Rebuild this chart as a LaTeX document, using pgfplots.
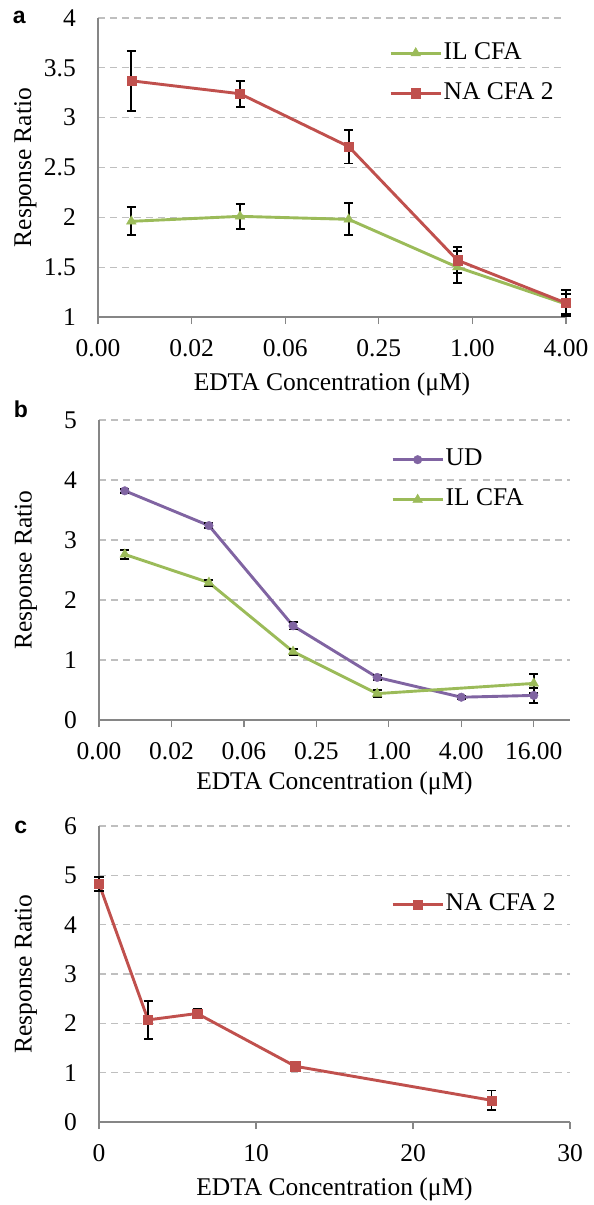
\documentclass[border=0pt]{standalone}
\usepackage{fontspec}
\setmainfont{Liberation Serif}
\newfontfamily\letterfont{Liberation Sans}
\usepackage{pgfplots}
\pgfplotsset{compat=1.18}
\definecolor{cred}{HTML}{C0504D}
\definecolor{cgreen}{HTML}{9BBB59}
\definecolor{cpurple}{HTML}{8064A2}
\definecolor{cgrid}{HTML}{BFBFBF}
\definecolor{caxis}{HTML}{868686}
\newcommand{\bigfont}{\fontsize{25.5bp}{30bp}\selectfont}
\tikzset{letter/.style={font=\letterfont\bfseries\fontsize{23bp}{27bp}\selectfont, anchor=base}}
\pgfplotsset{
  myaxis/.style={
    scale only axis,
    axis lines=left,
    axis line style={-, draw=caxis, line width=1.3bp},
    clip=false,
    ymajorgrids,
    major grid style={draw=cgrid, line width=1.3bp, dash pattern=on 7bp off 5bp},
    tick align=outside,
    major tick length=7bp,
    xtick style={draw=caxis, line width=1.3bp},
    ytick style={draw=none},
    /pgf/number format/assume math mode=true,
    tick label style={font=\bigfont},
    label style={font=\bigfont},
    xticklabel style={anchor=base, yshift=-32.5bp},
    yticklabel style={anchor=east, inner sep=0pt, xshift=-15bp},
    ylabel={Response Ratio},
    xlabel={EDTA Concentration (μM)},
    ylabel style={at={(axis description cs:-0.155,0.5)}, anchor=center},
    xlabel style={at={(axis description cs:0.5,0)}, anchor=base, yshift=-73.5bp},
    legend style={draw=none, fill=none, anchor=north west, font=\bigfont, inner sep=0pt,
      row sep=15bp, nodes={inner sep=1.5bp, text height=17bp, text depth=5bp},
      /tikz/every even column/.append style={column sep=0bp}},
    legend cell align=left,
    legend image code/.code={\draw[mark repeat=2,mark phase=2,##1] plot coordinates {(0bp,0bp) (25bp,0bp) (50bp,0bp)};},
  },
  eb/.style={error bars/.cd, y dir=both, y explicit,
    error bar style={black, line width=1.8bp, solid},
    error mark options={black, line width=1.8bp, mark size=4.5bp, rotate=90}},
  redser/.style={draw=cred, line width=2.9bp, mark=square*, mark size=4.6bp, mark options={solid, fill=cred, draw=cred, line width=0.4bp}},
  greenser/.style={draw=cgreen, line width=2.9bp, mark=triangle*, mark size=5.6bp, mark options={solid, fill=cgreen, draw=cgreen, line width=0.4bp}},
  purpser/.style={draw=cpurple, line width=2.9bp, mark=*, mark size=4.3bp, mark options={solid, fill=cpurple, draw=cpurple, line width=0.4bp}},
}
\begin{document}
\begin{tikzpicture}
\path[use as bounding box] (0,0) rectangle (594bp,-1205bp);
% ---------------- panel a
\begin{axis}[myaxis, at={(98bp,-317bp)}, anchor=south west, width=468bp, height=299bp,
  xmode=log, log basis x=4, xmin=0.00390625, xmax=4,
  xtick={0.00390625,0.015625,0.0625,0.25,1,4},
  xticklabels={0.00,0.02,0.06,0.25,1.00,4.00},
  ymin=1, ymax=4, ytick={1,1.5,2,2.5,3,3.5,4},
  yticklabels={1,{1.5\hspace{9bp}},2,{2.5\hspace{9bp}},3,{3.5\hspace{9bp}},4},
  legend style={at={(axis description cs:0.622,0.925)}}]
\addplot[greenser, eb] table[x=x, y=y, y error=e] {
x y e
0.0064 1.96 0.14
0.032 2.01 0.125
0.16 1.98 0.16
0.8 1.50 0.16
4 1.13 0.10
};
\addlegendentry{IL CFA}
\addplot[redser, eb] table[x=x, y=y, y error=e] {
x y e
0.0064 3.37 0.30
0.032 3.24 0.13
0.16 2.71 0.17
0.8 1.57 0.13
4 1.14 0.13
};
\addlegendentry{NA CFA 2}
\node[letter] at (axis description cs:-0.168,0.983) {a};
\end{axis}
% ---------------- panel b
\begin{axis}[myaxis, at={(99bp,-720bp)}, anchor=south west, width=471bp, height=300bp,
  xmode=log, log basis x=4, xmin=0.00390625, xmax=32,
  xtick={0.00390625,0.015625,0.0625,0.25,1,4,16},
  xticklabels={0.00,0.02,0.06,0.25,1.00,4.00,16.00},
  ymin=0, ymax=5, ytick={0,1,2,3,4,5},
  xlabel style={yshift=4bp},
  legend style={at={(axis description cs:0.620,0.91)}}]
\addplot[purpser, eb] table[x=x, y=y, y error=e] {
x y e
0.0064 3.82 0.03
0.032 3.24 0.04
0.16 1.57 0.06
0.8 0.71 0.04
4 0.38 0.03
16 0.41 0.12
};
\addlegendentry{UD}
\addplot[greenser, eb] table[x=x, y=y, y error=e] {
x y e
0.0064 2.76 0.08
0.032 2.29 0.05
0.16 1.14 0.05
0.8 0.44 0.06
16 0.61 0.16
};
\addlegendentry{IL CFA}
\node[letter] at (axis description cs:-0.166,1.007) {b};
\end{axis}
% ---------------- panel c
\begin{axis}[myaxis, at={(99bp,-1122bp)}, anchor=south west, width=471bp, height=296bp,
  xmin=0, xmax=30, xtick={0,10,20,30},
  ymin=0, ymax=6, ytick={0,1,2,3,4,5,6},
  legend style={at={(axis description cs:0.620,0.777)}}]
\addplot[redser, eb] table[x=x, y=y, y error=e] {
x y e
0 4.83 0.14
3.125 2.07 0.39
6.25 2.20 0.10
12.5 1.13 0.08
25 0.44 0.20
};
\addlegendentry{NA CFA 2}
\node[letter] at (axis description cs:-0.166,0.976) {c};
\end{axis}
\end{tikzpicture}
\end{document}
